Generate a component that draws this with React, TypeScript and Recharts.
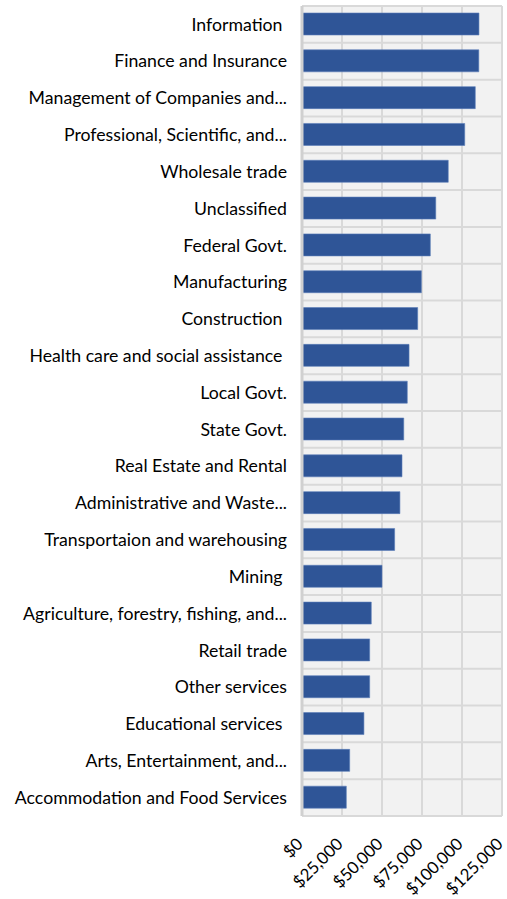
import React from "react";
import { BarChart, Bar, XAxis, YAxis, CartesianGrid } from "recharts";

// Industry names, top to bottom
const industries = [
  "Information ",
  "Finance and Insurance",
  "Management of Companies and...",
  "Professional, Scientific, and...",
  "Wholesale trade",
  "Unclassified",
  "Federal Govt.",
  "Manufacturing",
  "Construction ",
  "Health care and social assistance ",
  "Local Govt.",
  "State Govt.",
  "Real Estate and Rental",
  "Administrative and Waste...",
  "Transportaion and warehousing",
  "Mining ",
  "Agriculture, forestry, fishing, and...",
  "Retail trade",
  "Other services",
  "Educational services ",
  "Arts, Entertainment, and...",
  "Accommodation and Food Services",
];

// Average annual wage per industry (USD)
const wages = [
  110600, 110500, 108300, 101700, 91400, 83600, 80200, 74600, 72300, 66900,
  65800, 63600, 62500, 61200, 57900, 50000, 43300, 42300, 42300, 38700,
  29800, 27700,
];

const wageTicks = [0, 25000, 50000, 75000, 100000, 125000];

const data = industries.map((name, i) => ({ name, wage: wages[i] }));

const FONT = "Lato, 'Open Sans', sans-serif";
const FONT_SIZE = 17.7;
const TICK_FONT_SIZE = 16.8;

const fmtMoney = (v: number) => "$" + v.toLocaleString("en-US");

const MoneyTick = (props: any) => {
  const { x, y, payload } = props;
  const ax = x + 2;
  const ay = y + 21;
  return (
    <text
      x={ax}
      y={ay}
      transform={`rotate(-45 ${ax} ${ay})`}
      textAnchor="end"
      fontFamily={FONT}
      fontSize={TICK_FONT_SIZE}
      fill="#000"
    >
      {fmtMoney(payload.value)}
    </text>
  );
};

const IndustryTick = (props: any) => {
  const { x, y, payload } = props;
  return (
    <text
      x={x}
      y={y}
      dy="0.35em"
      textAnchor="end"
      fontFamily={FONT}
      fontSize={FONT_SIZE}
      fill="#000"
      style={{ whiteSpace: "pre" }}
    >
      {payload.value}
    </text>
  );
};

export default function App() {
  const rows = industries.length;
  return (
    <div style={{ position: "absolute", left: 0, top: 0 }}>
      <BarChart
        width={507}
        height={899}
        data={data}
        layout="vertical"
        margin={{ top: 6, right: 5, bottom: 0, left: 0 }}
        barSize={22}
      >
        <CartesianGrid
          fill="#F2F2F2"
          stroke="#D9D9D9"
          strokeWidth={2}
          horizontalCoordinatesGenerator={({ offset }: any) =>
            Array.from({ length: rows + 1 }, (_, i) => offset.top + (i * offset.height) / rows)
          }
        />
        <XAxis
          type="number"
          domain={[0, 125000]}
          ticks={wageTicks}
          interval={0}
          height={83}
          axisLine={false}
          tickLine={false}
          tick={<MoneyTick />}
        />
        <YAxis
          type="category"
          dataKey="name"
          width={302}
          interval={0}
          tickLine={false}
          tickMargin={9}
          axisLine={{ stroke: "#D0D0D0", strokeWidth: 3 }}
          tick={<IndustryTick />}
        />
        <Bar dataKey="wage" fill="#2F5597" stroke="#5B7DB8" strokeWidth={0.6} isAnimationActive={false} />
      </BarChart>
    </div>
  );
}
